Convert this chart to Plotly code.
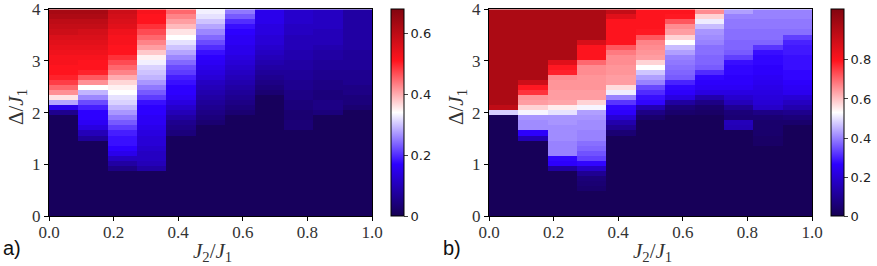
import numpy as np
import plotly.graph_objects as go

# ---------------- data ----------------
J2_ticks = [0.0, 0.2, 0.4, 0.6, 0.8, 1.0]
J2_tick_labels = ["0.0", "0.2", "0.4", "0.6", "0.8", "1.0"]
Delta_ticks = [0, 1, 2, 3, 4]
n_cols = 11   # J2/J1 = 0.0 ... 1.0
n_rows = 41   # Delta/J1 = 0.0 ... 4.0

# panel a) : one list per J2 column, bottom (Delta=0) to top (Delta=4)
a_col0 = [0.01]*20 + [0.06, 0.15, 0.28, 0.36, 0.42, 0.45, 0.48, 0.50,
          0.51, 0.51, 0.52, 0.52, 0.53, 0.54, 0.55, 0.56, 0.58, 0.59, 0.60, 0.62, 0.63]
a_col1 = [0.01]*15 + [0.07, 0.10, 0.14, 0.16, 0.17, 0.17, 0.19, 0.22, 0.26, 0.29, 0.34, 0.42, 0.46,
          0.50, 0.51, 0.51, 0.52, 0.53, 0.54, 0.55, 0.56, 0.57, 0.59, 0.60, 0.62, 0.63]
a_col2 = [0.01]*9 + [0.05, 0.08, 0.11, 0.15, 0.17, 0.18, 0.18, 0.19, 0.21, 0.23, 0.25, 0.27, 0.29,
          0.31, 0.32, 0.34, 0.35, 0.37, 0.40, 0.43, 0.45, 0.47, 0.49, 0.51, 0.51, 0.52, 0.52,
          0.53, 0.55, 0.56, 0.57, 0.58]
a_col3 = [0.01]*9 + [0.08, 0.10, 0.11, 0.11, 0.12, 0.13, 0.13, 0.14, 0.15, 0.16, 0.16, 0.17, 0.17,
          0.18, 0.21, 0.23, 0.25, 0.27, 0.29, 0.30, 0.31, 0.33, 0.35, 0.38, 0.41, 0.43, 0.45,
          0.47, 0.49, 0.51, 0.51, 0.52]
a_col4 = [0.01]*16 + [0.04, 0.05, 0.06, 0.08, 0.10, 0.12, 0.14, 0.16, 0.17, 0.17, 0.18, 0.19,
          0.21, 0.22, 0.24, 0.26, 0.28, 0.30, 0.32, 0.34, 0.36, 0.39, 0.41, 0.43, 0.45]
a_col5 = [0.01]*18 + [0.03, 0.04, 0.05, 0.06, 0.07, 0.08, 0.09, 0.10, 0.11, 0.13, 0.14, 0.15,
          0.16, 0.17, 0.18, 0.20, 0.22, 0.24, 0.26, 0.28, 0.30, 0.32, 0.33]
a_col6 = [0.01]*20 + [0.03, 0.04, 0.05, 0.06, 0.07, 0.08, 0.09, 0.10, 0.11, 0.12, 0.13, 0.14,
          0.15, 0.15, 0.16, 0.16, 0.17, 0.18, 0.20, 0.23, 0.25]
a_col7 = [0.01]*24 + [0.03, 0.04, 0.05, 0.06, 0.07, 0.08, 0.09, 0.10, 0.11, 0.12, 0.13, 0.13,
          0.14, 0.14, 0.15, 0.15, 0.15]
a_col8 = [0.01]*17 + [0.035, 0.035, 0.03, 0.03, 0.04, 0.04, 0.05, 0.05, 0.06, 0.06, 0.07, 0.07,
          0.08, 0.08, 0.09, 0.09, 0.10, 0.10, 0.10, 0.11, 0.11, 0.12, 0.12, 0.12]
a_col9 = [0.01]*20 + [0.04, 0.05, 0.05, 0.04, 0.04, 0.05, 0.05, 0.06, 0.06, 0.07, 0.07,
          0.08, 0.08, 0.09, 0.10, 0.10, 0.10, 0.11, 0.11, 0.11, 0.11]
a_col10 = [0.01]*21 + [0.03, 0.04, 0.04, 0.05, 0.05, 0.06, 0.06, 0.06, 0.07, 0.07, 0.07, 0.07] + [0.08]*8

# panel b)
b_col0 = [0.01]*20 + [0.48, 0.93] + [0.97]*19
b_col1 = [0.01]*15 + [0.15, 0.26, 0.41, 0.41, 0.42, 0.52, 0.58, 0.64, 0.65, 0.76, 0.79, 0.90] + [0.97]*14
b_col2 = [0.01]*9 + [0.12, 0.26, 0.27, 0.40, 0.40, 0.40, 0.41, 0.41, 0.41, 0.42, 0.42, 0.50, 0.55,
          0.63, 0.64, 0.64, 0.65, 0.65, 0.66, 0.78, 0.79, 0.86] + [0.97]*10
b_col3 = [0.01]*5 + [0.04, 0.05, 0.06, 0.10, 0.18, 0.27, 0.33, 0.35, 0.37, 0.38, 0.40, 0.40, 0.41,
          0.41, 0.42, 0.43, 0.52, 0.58, 0.64, 0.64, 0.65, 0.65, 0.65, 0.66, 0.66, 0.70,
          0.80, 0.80, 0.80, 0.88] + [0.97]*6
b_col4 = [0.01]*16 + [0.05, 0.10, 0.14, 0.20, 0.26, 0.27, 0.32, 0.40, 0.51, 0.57, 0.64, 0.64, 0.65,
          0.65, 0.66, 0.66, 0.68, 0.72, 0.80, 0.80, 0.80, 0.80, 0.80, 0.86, 0.92]
b_col5 = [0.01]*19 + [0.04, 0.08, 0.15, 0.27, 0.28, 0.31, 0.34, 0.40, 0.43, 0.47, 0.53, 0.58, 0.64,
          0.65, 0.66, 0.67, 0.72, 0.79, 0.80, 0.80, 0.80, 0.80]
b_col6 = [0.01]*20 + [0.04, 0.06, 0.12, 0.22, 0.26, 0.27, 0.30, 0.36, 0.37, 0.38, 0.39, 0.40, 0.43,
          0.46, 0.53, 0.58, 0.64, 0.66, 0.72, 0.79, 0.80]
b_col7 = [0.01]*20 + [0.03, 0.04, 0.08, 0.14, 0.22, 0.25, 0.26, 0.27, 0.31, 0.36, 0.37, 0.37, 0.38,
          0.38, 0.40, 0.41, 0.42, 0.46, 0.51, 0.58, 0.66]
b_col8 = [0.01]*17 + [0.15, 0.16, 0.05, 0.06, 0.10, 0.16, 0.19, 0.22, 0.25, 0.26, 0.26, 0.27, 0.27,
          0.28, 0.33, 0.36, 0.37, 0.37, 0.38, 0.38, 0.39, 0.39, 0.40, 0.43]
b_col9 = [0.01]*14 + [0.03, 0.03, 0.04, 0.04, 0.04, 0.05, 0.08, 0.18, 0.20, 0.21, 0.22, 0.23, 0.24,
          0.25, 0.26, 0.26, 0.27, 0.27, 0.28, 0.32, 0.37, 0.38, 0.38, 0.39, 0.39, 0.40, 0.40]
b_col10 = [0.01]*18 + [0.04, 0.06, 0.09, 0.14, 0.17, 0.20, 0.24, 0.25, 0.26, 0.27, 0.27, 0.28, 0.28,
           0.28, 0.29, 0.29, 0.30, 0.33, 0.38, 0.39, 0.39, 0.40, 0.40]

a_cols = [a_col0, a_col1, a_col2, a_col3, a_col4, a_col5, a_col6, a_col7, a_col8, a_col9, a_col10]
b_cols = [b_col0, b_col1, b_col2, b_col3, b_col4, b_col5, b_col6, b_col7, b_col8, b_col9, b_col10]
a_zmax = 0.68
b_zmax = 1.06
a_cbar_ticks = [0, 0.2, 0.4, 0.6]
b_cbar_ticks = [0, 0.2, 0.4, 0.6, 0.8]

# ---------------- figure ----------------
W, H = 877, 266
seismic = [[0.0, "rgb(22,0,82)"], [0.25, "rgb(45,0,255)"], [0.5, "rgb(255,255,255)"],
           [0.75, "rgb(255,20,30)"], [1.0, "rgb(130,5,15)"]]

# cell centres from imshow-like extent [0,1]x[0,4]
xc = (np.arange(n_cols) + 0.5) / n_cols
yc = (np.arange(n_rows) + 0.5) * 4.0 / n_rows

def px(x):
    return x / W

def py(y):
    return 1 - y / H

top, bot = 9.3, 216.0
ydom = [py(bot), py(top)]
panels = [
    dict(cols=a_cols, zmax=a_zmax, ticks=a_cbar_ticks, x0=49, x1=372, cb=391, label="a)", lx=1),
    dict(cols=b_cols, zmax=b_zmax, ticks=b_cbar_ticks, x0=489, x1=812, cb=831, label="b)", lx=441),
]

fig = go.Figure()
serif = "Liberation Serif"
annotations = []
for k, p in enumerate(panels):
    z = np.array(p["cols"]).T
    xa = "x" if k == 0 else "x2"
    ya = "y" if k == 0 else "y2"
    fig.add_trace(go.Heatmap(
        z=z, x=xc, y=yc, xaxis=xa, yaxis=ya,
        colorscale=seismic, zmin=0, zmax=p["zmax"],
        colorbar=dict(
            x=px(p["cb"]), xanchor="left", y=(ydom[0] + ydom[1]) / 2, yanchor="middle",
            len=ydom[1] - ydom[0], lenmode="fraction", thickness=13, thicknessmode="pixels",
            outlinewidth=1, outlinecolor="black", ticks="outside", ticklen=4,
            tickvals=p["ticks"], tickfont=dict(family="DejaVu Sans", size=13, color="#222"),
            xpad=0, ypad=0,
        ),
    ))
    axkw = dict(showline=True, linecolor="black", linewidth=1, mirror=True, automargin=False,
                ticks="outside", ticklen=4, tickcolor="black", showgrid=False, zeroline=False,
                tickfont=dict(family=serif, size=17, color="#333"))
    xkey = "xaxis" if k == 0 else "xaxis2"
    ykey = "yaxis" if k == 0 else "yaxis2"
    fig.update_layout(**{
        xkey: dict(domain=[px(p["x0"]), px(p["x1"])], range=[0, 1], anchor=ya,
                   tickvals=J2_ticks, ticktext=J2_tick_labels, ticklabelstandoff=-3, **axkw),
        ykey: dict(domain=ydom, range=[0, 4], anchor=xa, tickvals=Delta_ticks, **axkw),
    })
    xmid = (p["x0"] + p["x1"]) / 2
    annotations.append(dict(text="<i>J</i><sub>2</sub>/<i>J</i><sub>1</sub>", x=px(xmid + 2), y=py(252),
                            xanchor="center", yanchor="middle",
                            xref="paper", yref="paper", showarrow=False,
                            font=dict(family=serif, size=21, color="#333")))
    annotations.append(dict(text="Δ/<i>J</i><sub>1</sub>", x=px(p["x0"] - 32), y=py(107),
                            xanchor="center", yanchor="middle",
                            xref="paper", yref="paper", showarrow=False, textangle=-90,
                            font=dict(family=serif, size=21, color="#333")))
    annotations.append(dict(text=p["label"], x=px(p["lx"]), y=py(248), xanchor="left", yanchor="middle",
                            xref="paper", yref="paper", showarrow=False,
                            font=dict(family="Liberation Sans", size=20, color="#111")))

fig.update_layout(width=W, height=H, margin=dict(l=0, r=0, t=0, b=0, autoexpand=False),
                  paper_bgcolor="white", plot_bgcolor="white", annotations=annotations,
                  showlegend=False)
fig.write_html("out.html", config={"displayModeBar": False},
               post_script="document.body.style.margin='0px';document.body.style.padding='0px';")
